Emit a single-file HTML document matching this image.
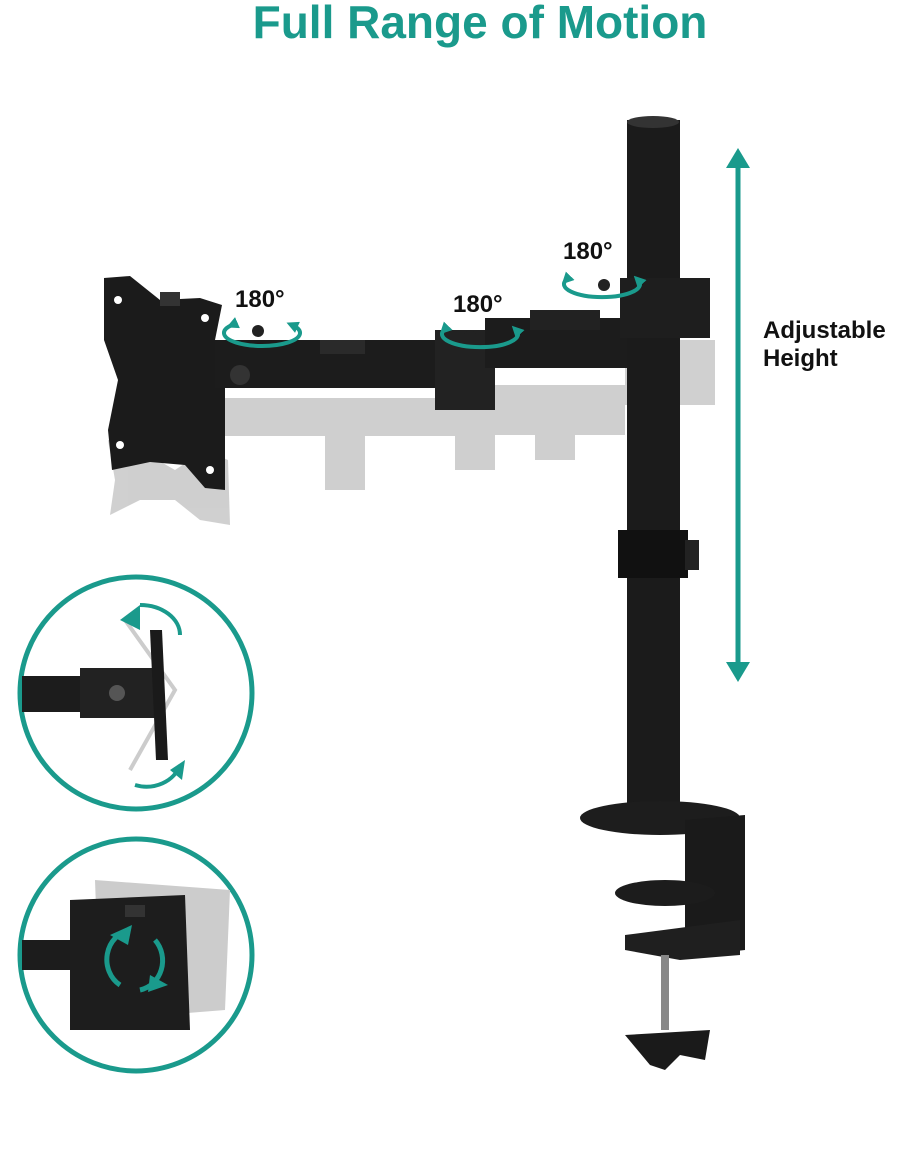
<!DOCTYPE html>
<html><head><meta charset="utf-8"><style>
html,body{margin:0;padding:0;background:#fff;}
body{width:920px;height:1144px;position:relative;overflow:hidden;font-family:"Liberation Sans",sans-serif;}
</style></head><body>
<svg width="920" height="1144" viewBox="0 0 920 1144" xmlns="http://www.w3.org/2000/svg">
<defs>
<marker id="ah" markerUnits="userSpaceOnUse" markerWidth="12" markerHeight="12" refX="6" refY="6" orient="auto"><path d="M0,0 L12,6 L0,12 z" fill="#1a9a8c"/></marker>
</defs>
<text x="480" y="38" text-anchor="middle" font-family="Liberation Sans,sans-serif" font-weight="bold" font-size="46" fill="#1a9a8c">Full Range of Motion</text>

<!-- ghost arm -->
<g fill="#c4c4c4" opacity="0.8">
<rect x="215" y="398" width="265" height="38"/>
<rect x="480" y="385" width="145" height="50"/>
<rect x="325" y="400" width="40" height="90"/>
<rect x="455" y="400" width="40" height="70"/>
<rect x="535" y="420" width="40" height="40"/>
<path d="M108,440 L140,450 L175,470 L205,450 L228,460 L230,525 L200,520 L175,500 L140,500 L110,515 L115,480 Z"/>
<rect x="625" y="340" width="90" height="65"/>
</g>
<!-- vesa plate -->
<path d="M104,278 L130,276 L160,300 L200,298 L222,305 L215,340 L225,380 L225,490 L205,488 L185,465 L150,462 L112,470 L108,430 L118,380 L104,340 Z" fill="#1b1b1b"/>
<g fill="#fff"><circle cx="118" cy="300" r="4"/><circle cx="205" cy="318" r="4"/><circle cx="120" cy="445" r="4"/><circle cx="210" cy="470" r="4"/></g>
<rect x="160" y="292" width="20" height="14" fill="#333"/>
<!-- main arm -->
<rect x="215" y="340" width="265" height="48" fill="#1c1c1c"/>
<rect x="320" y="340" width="45" height="14" fill="#2a2a2a"/>
<rect x="435" y="330" width="60" height="80" fill="#222"/>
<rect x="485" y="318" width="145" height="50" fill="#1c1c1c"/>
<rect x="530" y="310" width="70" height="20" fill="#222"/>
<circle cx="240" cy="375" r="10" fill="#333"/>
<!-- pole -->
<rect x="627" y="120" width="53" height="700" fill="#1b1b1b"/>
<ellipse cx="653" cy="122" rx="26" ry="6" fill="#333"/>
<rect x="620" y="278" width="90" height="60" fill="#1e1e1e"/>
<rect x="618" y="530" width="70" height="48" fill="#111"/>
<rect x="685" y="540" width="14" height="30" fill="#222"/>
<!-- base clamp -->
<ellipse cx="660" cy="818" rx="80" ry="17" fill="#1d1d1d"/>
<path d="M685,820 L745,815 L745,950 L700,955 L685,950 Z" fill="#1a1a1a"/>
<ellipse cx="665" cy="893" rx="50" ry="13" fill="#1c1c1c"/>
<path d="M625,935 L740,920 L740,955 L680,960 L625,950 Z" fill="#1f1f1f"/>
<rect x="661" y="955" width="8" height="75" fill="#888"/>
<path d="M625,1035 L710,1030 L705,1060 L680,1055 L665,1070 L650,1065 Z" fill="#1a1a1a"/>

<!-- height arrow -->
<line x1="738" y1="160" x2="738" y2="670" stroke="#1a9a8c" stroke-width="5"/>
<path d="M726,168 L738,148 L750,168 Z" fill="#1a9a8c"/>
<path d="M726,662 L738,682 L750,662 Z" fill="#1a9a8c"/>
<text x="763" y="338" font-family="Liberation Sans,sans-serif" font-weight="bold" font-size="24" fill="#111">Adjustable</text>
<text x="763" y="366" font-family="Liberation Sans,sans-serif" font-weight="bold" font-size="24" fill="#111">Height</text>

<!-- 180 labels and rotation ellipses -->
<g font-family="Liberation Sans,sans-serif" font-weight="bold" font-size="24" fill="#111">
<text x="235" y="307">180°</text>
<text x="453" y="312">180°</text>
<text x="563" y="259">180°</text>
</g>
<g fill="none" stroke="#1a9a8c" stroke-width="4">
<path d="M232,325 A38,13 0 1 0 292,325" marker-start="url(#ah)" marker-end="url(#ah)"/>
<path d="M444,330 A38,13 0 1 0 516,330" marker-start="url(#ah)" marker-end="url(#ah)"/>
<path d="M566,280 A38,13 0 1 0 638,280" marker-start="url(#ah)" marker-end="url(#ah)"/>
</g>
<circle cx="258" cy="331" r="6" fill="#222"/>
<circle cx="470" cy="336" r="6" fill="#222"/>
<circle cx="604" cy="285" r="6" fill="#222"/>

<!-- circle 1 -->
<circle cx="136" cy="693" r="116" fill="#fff" stroke="#1a9a8c" stroke-width="5"/>
<path d="M125,620 L175,690 L130,770" fill="none" stroke="#ccc" stroke-width="4"/>
<rect x="22" y="676" width="70" height="36" fill="#1c1c1c"/>
<rect x="80" y="668" width="75" height="50" fill="#222"/>
<circle cx="117" cy="693" r="8" fill="#555"/>
<path d="M150,630 L162,630 L168,760 L156,760 Z" fill="#1a1a1a"/>
<g fill="none" stroke="#1a9a8c" stroke-width="4">
<path d="M140,605 A40,30 0 0 1 180,635"/>
<path d="M135,785 A35,30 0 0 0 180,765"/>
</g>
<path d="M120,620 L140,605 L140,630 Z" fill="#1a9a8c"/>
<path d="M170,770 L185,760 L182,780 Z" fill="#1a9a8c"/>

<!-- circle 2 -->
<circle cx="136" cy="955" r="116" fill="#fff" stroke="#1a9a8c" stroke-width="5"/>
<path d="M95,880 L230,890 L225,1010 L100,1020 Z" fill="#ccc"/>
<rect x="22" y="940" width="70" height="30" fill="#1c1c1c"/>
<path d="M70,900 L185,895 L190,1030 L70,1030 Z" fill="#1d1d1d"/>
<rect x="125" y="905" width="20" height="12" fill="#333"/>
<g fill="none" stroke="#1a9a8c" stroke-width="5">
<path d="M130,930 A28,30 0 0 0 120,985"/>
<path d="M140,990 A28,30 0 0 0 155,940"/>
</g>
<path d="M110,935 L132,925 L128,945 Z" fill="#1a9a8c"/>
<path d="M150,975 L168,985 L148,992 Z" fill="#1a9a8c"/>
</svg>
</body></html>
